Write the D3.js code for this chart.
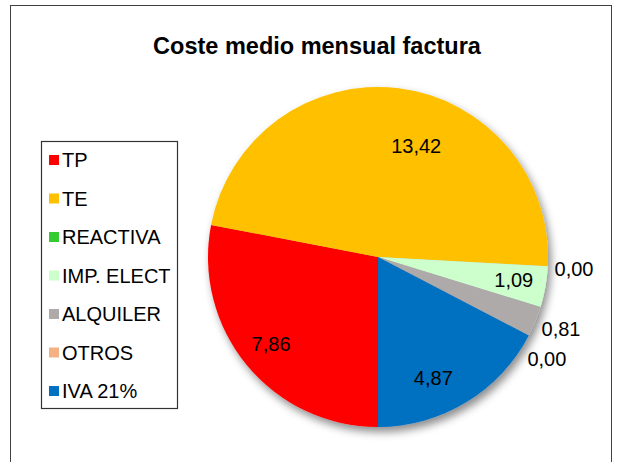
<!DOCTYPE html>
<html>
<head>
<meta charset="utf-8">
<script src="https://cdn.jsdelivr.net/npm/d3@7"></script>
<style>
  body { margin: 0; background: #fff; }
  text { font-family: "Liberation Sans", Arial, sans-serif; fill: #000; }
</style>
</head>
<body>
<div id="chart"></div>
<script>
var categories = ["TP", "TE", "REACTIVA", "IMP. ELECT", "ALQUILER", "OTROS", "IVA 21%"];
var values = [7.86, 13.42, 0.00, 1.09, 0.81, 0.00, 4.87];
var colors = ["#ff0000", "#ffc000", "#33cc33", "#ccffcc", "#aeaaaa", "#f4b183", "#0070c0"];

// label placement (fraction of radius, angle nudge in degrees), like Excel "best fit"
var labelRadius = [0.81, 0.69, 1.155, 0.81, 1.158, 1.16, 0.78];
var labelNudge = [0.5, 12, 0.3, -0.4, -0.7, 3.6, 6.6];

var width = 621,
    height = 462,
    cx = 378,
    cy = 257,
    radius = 170;

var svg = d3.select("#chart").append("svg")
    .attr("width", width)
    .attr("height", height);

var defs = svg.append("defs");
defs.append("filter")
    .attr("id", "shadow")
    .attr("x", "-20%").attr("y", "-20%")
    .attr("width", "140%").attr("height", "140%")
  .append("feDropShadow")
    .attr("dx", 3)
    .attr("dy", 5)
    .attr("stdDeviation", 4)
    .attr("flood-color", "#000")
    .attr("flood-opacity", 0.45);

// chart frame
svg.append("rect")
    .attr("x", 10.5).attr("y", 5.5)
    .attr("width", 601).attr("height", 470)
    .attr("fill", "#fff")
    .attr("stroke", "#404040")
    .attr("stroke-width", 1);

svg.append("text")
    .attr("x", 317)
    .attr("y", 54)
    .attr("text-anchor", "middle")
    .style("font-size", "23.5px")
    .style("font-weight", "bold")
    .text("Coste medio mensual factura");

var data = categories.map(function(c, i) {
    return { name: c, value: values[i], color: colors[i], lr: labelRadius[i], nudge: labelNudge[i] };
});

var pie = d3.pie()
    .sort(null)
    .value(function(d) { return d.value; })
    .startAngle(Math.PI)
    .endAngle(3 * Math.PI);

var arc = d3.arc().innerRadius(0).outerRadius(radius);

var g = svg.append("g")
    .attr("transform", "translate(" + cx + "," + cy + ")");

var arcs = pie(data);

g.append("g")
    .attr("filter", "url(#shadow)")
  .selectAll("path")
    .data(arcs)
    .enter().append("path")
    .attr("d", arc)
    .attr("fill", function(d) { return d.data.color; });

var fmt = function(v) { return d3.format(".2f")(v).replace(".", ","); };

g.selectAll(".label")
    .data(arcs)
    .enter().append("text")
    .attr("class", "label")
    .attr("text-anchor", "middle")
    .attr("dy", "0.35em")
    .style("font-size", "20px")
    .attr("transform", function(d) {
        var a = (d.startAngle + d.endAngle) / 2 + d.data.nudge * Math.PI / 180;
        var r = radius * d.data.lr;
        return "translate(" + (r * Math.sin(a)) + "," + (-r * Math.cos(a)) + ")";
    })
    .text(function(d) { return fmt(d.data.value); });

// legend
var legend = svg.append("g");
legend.append("rect")
    .attr("x", 41.5).attr("y", 141.5)
    .attr("width", 136).attr("height", 267)
    .attr("fill", "#fff")
    .attr("stroke", "#333")
    .attr("stroke-width", 1.2);

var rowY = d3.scalePoint().domain(categories).range([160, 391]);

var item = legend.selectAll(".item")
    .data(data)
    .enter().append("g")
    .attr("transform", function(d) { return "translate(0," + rowY(d.name) + ")"; });

item.append("rect")
    .attr("x", 49).attr("y", -5)
    .attr("width", 10).attr("height", 10)
    .attr("fill", function(d) { return d.color; });

item.append("text")
    .attr("x", 62)
    .attr("y", 7)
    .style("font-size", "20px")
    .text(function(d) { return d.name; });
</script>
</body>
</html>
